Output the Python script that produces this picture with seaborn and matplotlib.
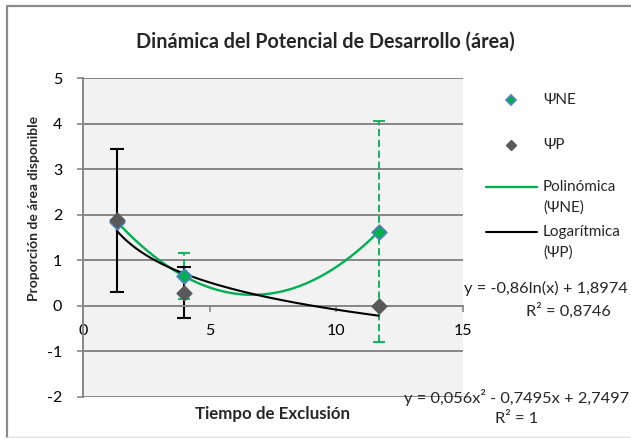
import numpy as np
import pandas as pd
import matplotlib
matplotlib.use("Agg")
import matplotlib.pyplot as plt
import seaborn as sns
from matplotlib.lines import Line2D

# Exclusion time (years) and the two potential indices with their error bars
tiempo = [1.33, 4.0, 11.67]
psi_ne = [1.85, 0.65, 1.63]
psi_ne_err = [0.0, 0.50, 2.42]
psi_p = [1.88, 0.29, 0.0]
psi_p_err = [1.57, 0.56, 0.0]

# Trend lines (Excel style)
poly_coef = [0.056, -0.7495, 2.7497]   # a x^2 + b x + c
poly_r2 = 1
log_coef = [-0.86, 1.8974]             # a ln(x) + b
log_r2 = 0.8746

x_ticks = [0, 5, 10, 15]
y_ticks = [-2, -1, 0, 1, 2, 3, 4, 5]

W, H = 631, 438
sns.set_theme(style="white")
plt.rcParams["font.family"] = ["Lato", "DejaVu Sans"]
plt.rcParams["axes.unicode_minus"] = False

GREEN = "#00B050"
BLUE = "#4F81BD"
DARK = "#595959"
GRID = "#878787"

fig = plt.figure(figsize=(W / 100, H / 100), dpi=100)
fig.patch.set_facecolor("white")


def fx(px):
    return px / W


def fy(py):
    return 1 - py / H


ax = fig.add_axes([fx(83), fy(397), fx(463) - fx(83), fy(78) - fy(397)])
ax.set_facecolor("#F2F2F2")
ax.set_xlim(0, 15)
ax.set_ylim(-2, 5)

for yv in y_ticks:
    ax.axhline(yv, color=GRID, lw=1.4, zorder=0.5)

for s in ["top", "right"]:
    ax.spines[s].set_visible(False)
ax.spines["left"].set_color(GRID)
ax.spines["left"].set_linewidth(1.4)
ax.spines["bottom"].set_position(("data", 0))
ax.spines["bottom"].set_color(GRID)
ax.spines["bottom"].set_linewidth(1.4)

ax.set_xticks(x_ticks)
ax.set_yticks(y_ticks)
ax.tick_params(axis="both", direction="out", length=4, width=1.2, color=GRID,
               labelsize=11.5, labelcolor="#000000")
ax.tick_params(axis="y", pad=11, left=True)
ax.tick_params(axis="x", pad=9, bottom=True)

# Trend curves from their equations
xs = np.linspace(min(tiempo), max(tiempo), 300)
poly_y = np.polyval(poly_coef, xs)
log_y = log_coef[0] * np.log(xs) + log_coef[1]
sns.lineplot(x=xs, y=poly_y, color=GREEN, lw=1.7, ax=ax, zorder=3, legend=False)
sns.lineplot(x=xs, y=log_y, color="black", lw=1.5, ax=ax, zorder=3, legend=False)

# Error bars
ne_err = ax.errorbar(tiempo, psi_ne, yerr=psi_ne_err, fmt="none", ecolor=GREEN,
                     elinewidth=1.3, capsize=4, capthick=1.3, zorder=2)
ne_err[2][0].set_linestyle((0, (4, 2)))
ax.errorbar(tiempo, psi_p, yerr=psi_p_err, fmt="none", ecolor="black",
            elinewidth=1.5, capsize=5, capthick=1.5, zorder=2)

# Markers
df = pd.DataFrame({"t": tiempo, "ne": psi_ne, "p": psi_p})
sns.scatterplot(data=df, x="t", y="ne", marker="D", s=55, color=GREEN,
                edgecolor=BLUE, linewidth=1.3, ax=ax, zorder=4, legend=False)
sns.scatterplot(data=df, x="t", y="p", marker="D", s=60, color=DARK,
                edgecolor=DARK, linewidth=0.8, ax=ax, zorder=5, legend=False)

ax.set_xlabel("")
ax.set_ylabel("")

# Titles
fig.text(fx(325), fy(42), "Dinámica del Potencial de Desarrollo (área)",
         ha="center", va="center", fontsize=14.2, fontweight="bold")
fig.text(fx(273), fy(414), "Tiempo de Exclusión", ha="center", va="center",
         fontsize=12.2, fontweight="bold")
fig.text(fx(34), fy(208), "Proporción de área disponible", ha="center",
         va="center", rotation=90, fontsize=10, fontweight="bold")

# Legend
lx_text = fx(543)
fig.add_artist(Line2D([fx(511)], [fy(100)], marker="D", markersize=5.5,
                      markerfacecolor=GREEN, markeredgecolor=BLUE,
                      markeredgewidth=1.2, linestyle="none"))
fig.text(lx_text, fy(100), "ΨNE", va="center", fontsize=11)
fig.add_artist(Line2D([fx(511)], [fy(145)], marker="D", markersize=5.5,
                      markerfacecolor=DARK, markeredgecolor=DARK,
                      linestyle="none"))
fig.text(lx_text, fy(145), "ΨP", va="center", fontsize=11)
fig.add_artist(Line2D([fx(486), fx(537)], [fy(187), fy(187)], color=GREEN, lw=1.7))
fig.text(lx_text, fy(187), "Polinómica", va="center", fontsize=11)
fig.text(lx_text, fy(208), "(ΨNE)", va="center", fontsize=11)
fig.add_artist(Line2D([fx(486), fx(537)], [fy(232), fy(232)], color="black", lw=1.5))
fig.text(lx_text, fy(232), "Logarítmica", va="center", fontsize=11)
fig.text(lx_text, fy(253), "(ΨP)", va="center", fontsize=11)


def dec(v):
    return f"{abs(v)}".replace(".", ",")


log_eq = f"y = {'-' if log_coef[0] < 0 else ''}{dec(log_coef[0])}ln(x) + {dec(log_coef[1])}"
poly_eq = (f"y = {dec(poly_coef[0])}x² - {dec(poly_coef[1])}x + {dec(poly_coef[2])}")
fig.text(fx(628), fy(288), log_eq, ha="right", va="center", fontsize=11.8)
fig.text(fx(568), fy(311), f"R² = {dec(log_r2)}", ha="center", va="center", fontsize=11.8)
fig.text(fx(629), fy(397), poly_eq, ha="right", va="center", fontsize=11.8)
fig.text(fx(517), fy(419), f"R² = {dec(poly_r2)}", ha="center", va="center", fontsize=11.8)

# Chart frame
fig.add_artist(Line2D([fx(7), fx(7)], [fy(5.5), fy(437)], color="#8C8C8C", lw=1.6))
fig.add_artist(Line2D([fx(7), fx(631)], [fy(5.5), fy(5.5)], color="#8C8C8C", lw=1.6))
fig.add_artist(Line2D([fx(7), fx(631)], [fy(436.5), fy(436.5)], color="#E0E0E0", lw=1.0))

fig.savefig("out.png", dpi=100)
